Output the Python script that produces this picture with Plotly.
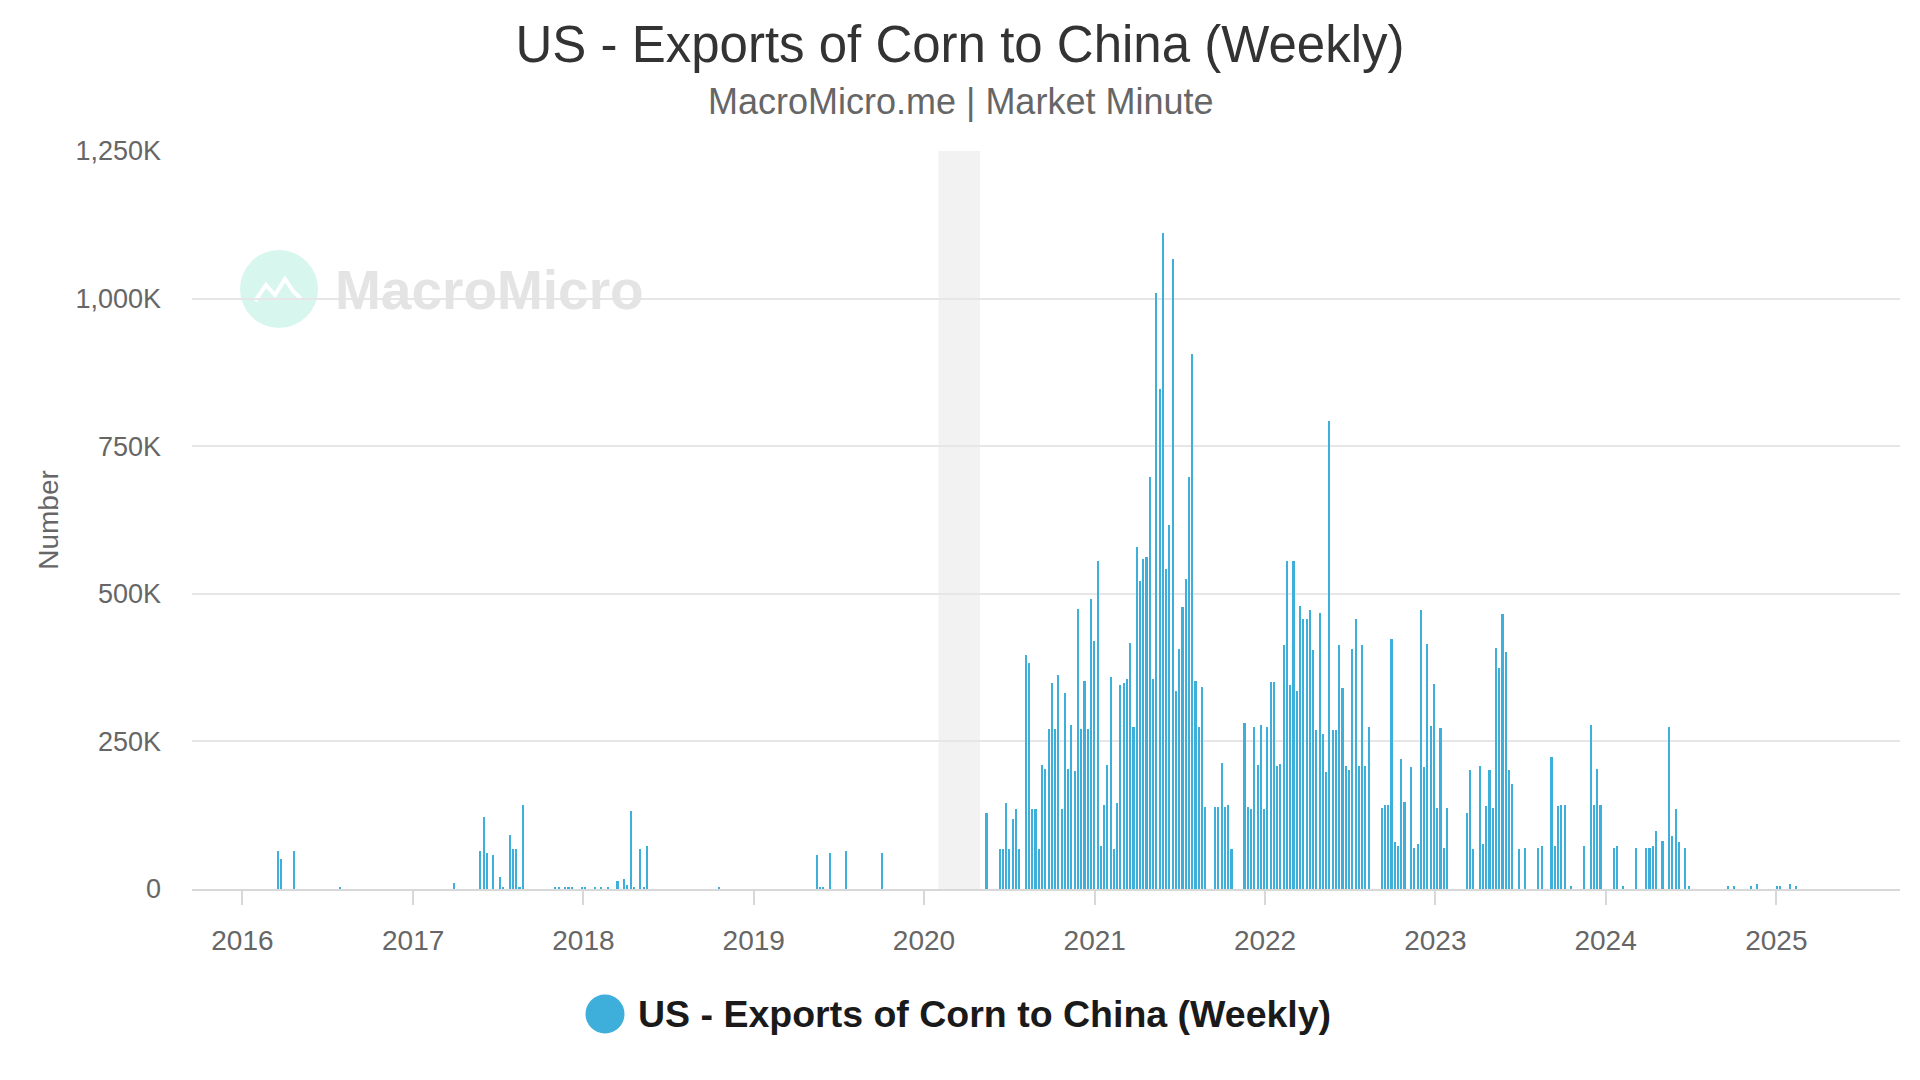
import pandas as pd
import plotly.graph_objects as go

# sparse weeks before the 2020 surge (thousand units)
early_dates = [
    "2016-03-17", "2016-03-24", "2016-04-21", "2016-07-28",
    "2017-03-30", "2017-05-25", "2017-06-01", "2017-06-08", "2017-06-22",
    "2017-07-06", "2017-07-13", "2017-07-27", "2017-08-03", "2017-08-10",
    "2017-08-17", "2017-08-24", "2017-11-02", "2017-11-09", "2017-11-23",
    "2017-11-30", "2017-12-07", "2017-12-28", "2018-01-04", "2018-01-25",
    "2018-02-08", "2018-02-22", "2018-03-15", "2018-03-29", "2018-04-05",
    "2018-04-12", "2018-04-19", "2018-05-03", "2018-05-10", "2018-05-17",
    "2018-10-18", "2019-05-16", "2019-05-23", "2019-05-30", "2019-06-13",
    "2019-07-18", "2019-10-03", "2020-05-14",
]
early_values = [
    65, 51, 65, 4,
    11, 65, 122, 61, 58,
    21, 4, 92, 68, 68,
    4, 142, 4, 4, 4,
    4, 4, 4, 4, 4,
    4, 4, 14, 17, 7,
    132, 4, 68, 4, 72,
    4, 58, 4, 4, 61,
    65, 61, 129,
]

# consecutive weeks from 2020-06-11 onwards (thousand units)
weekly_start = "2020-06-11"
weekly_values = [
    68, 68, 146, 68, 119, 136, 68, 0, 396, 383,
    136, 136, 68, 210, 203, 271, 349, 271, 362, 136,
    332, 203, 278, 200, 474, 271, 352, 271, 491, 420,
    555, 72, 143, 210, 359, 68, 146, 346, 349, 356,
    417, 275, 579, 522, 559, 562, 698, 356, 1010, 847,
    1111, 542, 617, 1067, 335, 407, 477, 525, 698, 907,
    352, 275, 342, 139, 0, 0, 139, 139, 214, 139,
    142, 68, 0, 0, 0, 281, 139, 136, 275, 210,
    278, 136, 275, 350, 350, 208, 211, 414, 556, 346,
    556, 336, 479, 458, 458, 472, 404, 269, 468, 262,
    198, 793, 269, 269, 414, 340, 208, 201, 407, 458,
    208, 414, 208, 275, 0, 0, 0, 137, 143, 143,
    424, 79, 72, 221, 147, 0, 206, 70, 77, 472,
    206, 415, 276, 347, 138, 273, 70, 138, 0, 0,
    0, 0, 0, 128, 202, 67, 0, 209, 77, 141,
    202, 138, 408, 374, 466, 401, 202, 178, 0, 67,
    0, 70, 0, 0, 0, 70, 72, 0, 0, 224,
    72, 140, 143, 143, 0, 4.5, 0, 0, 0, 72,
    0, 278, 143, 204, 143, 0, 0, 0, 69, 72,
    0, 4.5, 0, 0, 0, 69, 0, 0, 69, 69,
    72, 99, 0, 82, 0, 275, 89, 136, 79, 0,
    69, 4.5, 0, 0, 0, 0, 0, 0, 0, 0,
    0, 0, 0, 4.5, 0, 4.5, 0, 0, 0, 0,
    4.5, 0, 8, 0, 0, 0, 0, 0, 4.5, 4.5,
    0, 0, 8, 0, 4.5,
]

recession = ("2020-02-01", "2020-04-30")
y_ticks = [0, 250, 500, 750, 1000, 1250]
y_tick_text = ["0", "250K", "500K", "750K", "1,000K", "1,250K"]
series_name = "US - Exports of Corn to China (Weekly)"

weekly_dates = pd.date_range(weekly_start, periods=len(weekly_values), freq="7D")
x = list(pd.to_datetime(early_dates)) + list(weekly_dates)
y = early_values + weekly_values

BAR = "#3eafdb"
FONT = "Liberation Sans"

# page is offset by the 8px body margin, so the figure is 1904x1064
W, H = 1904, 1064
L, R, T, B = 184, 12, 143, 183
PW, PH = W - L - R, H - T - B


def px(page_x):
    return (page_x - 8 - L) / PW


def py(page_y):
    return (H - B - (page_y - 8)) / PH


fig = go.Figure()
fig.add_trace(go.Bar(
    x=x, y=y,
    width=4.5 * 86400000,
    marker=dict(color=BAR, line=dict(width=0)),
    name=series_name,
    showlegend=False,
    hovertemplate="%{x|%Y-%m-%d}<br>%{y}K<extra></extra>",
))

fig.update_layout(
    width=W, height=H,
    paper_bgcolor="white", plot_bgcolor="white",
    margin=dict(l=L, r=R, t=T, b=B),
    font=dict(family=FONT, color="#666666"),
    title=dict(
        text=series_name, x=(960 - 8) / W, xanchor="center",
        y=1 - 36 / H, yanchor="middle", yref="container",
        font=dict(size=51, color="#333333", family=FONT),
    ),
    bargap=0,
)

fig.update_xaxes(
    type="date",
    range=["2015-09-15", "2025-09-23"],
    tickformat="%Y", dtick="M12", tick0="2016-01-01",
    showgrid=False,
    showline=True, linecolor="#d8d8d8", linewidth=2,
    ticks="outside", ticklen=14, tickwidth=2, tickcolor="#d8d8d8",
    tickfont=dict(size=28, color="#666666"),
    ticklabelstandoff=11,
)
fig.update_yaxes(
    range=[0, 1250],
    tickvals=y_ticks, ticktext=y_tick_text,
    showgrid=True, gridcolor="#e6e6e6", gridwidth=1.5,
    zeroline=False, showline=False,
    tickfont=dict(size=27, color="#666666"),
    ticklabelstandoff=30,
    title=dict(text="Number", font=dict(size=28, color="#666666"), standoff=8),
)

# recession band
fig.add_shape(
    type="rect", xref="x", yref="paper",
    x0=recession[0], x1=recession[1], y0=0, y1=1,
    fillcolor="#f2f2f2", line=dict(width=0), layer="below",
)

# subtitle
fig.add_annotation(
    text="MacroMicro.me | Market Minute", xref="paper", yref="paper",
    x=px(960), y=py(102), xanchor="center", yanchor="middle",
    showarrow=False, font=dict(size=36, color="#666666", family=FONT),
)

# watermark logo
fig.add_shape(
    type="circle", xref="paper", yref="paper",
    xsizemode="pixel", ysizemode="pixel",
    xanchor=px(279), yanchor=py(289),
    x0=-39, x1=39, y0=-39, y1=39,
    fillcolor="#d6f6ee", line=dict(width=0), layer="below",
)
fig.add_shape(
    type="path", xref="paper", yref="paper",
    xsizemode="pixel", ysizemode="pixel",
    xanchor=px(279), yanchor=py(289),
    path="M -24,-12 L -13,4 L -4,-6 L 6,10 L 14,-2 L 22,-10",
    line=dict(color="white", width=4), layer="below",
)
fig.add_annotation(
    text="MacroMicro", xref="paper", yref="paper",
    x=px(333), y=py(290),
    xanchor="left", yanchor="middle", showarrow=False,
    font=dict(size=55, color="#e4e4e4", family=FONT, weight="bold"),
)

# legend
fig.add_shape(
    type="circle", xref="paper", yref="paper",
    xsizemode="pixel", ysizemode="pixel",
    xanchor=px(605), yanchor=py(1014),
    x0=-19.5, x1=19.5, y0=-19.5, y1=19.5,
    fillcolor=BAR, line=dict(width=0),
)
fig.add_annotation(
    text=series_name, xref="paper", yref="paper",
    x=px(636), y=py(1014),
    xanchor="left", yanchor="middle", showarrow=False,
    font=dict(size=37.5, color="#1a1a1a", family=FONT, weight="bold"),
)

fig.write_html("out.html")
